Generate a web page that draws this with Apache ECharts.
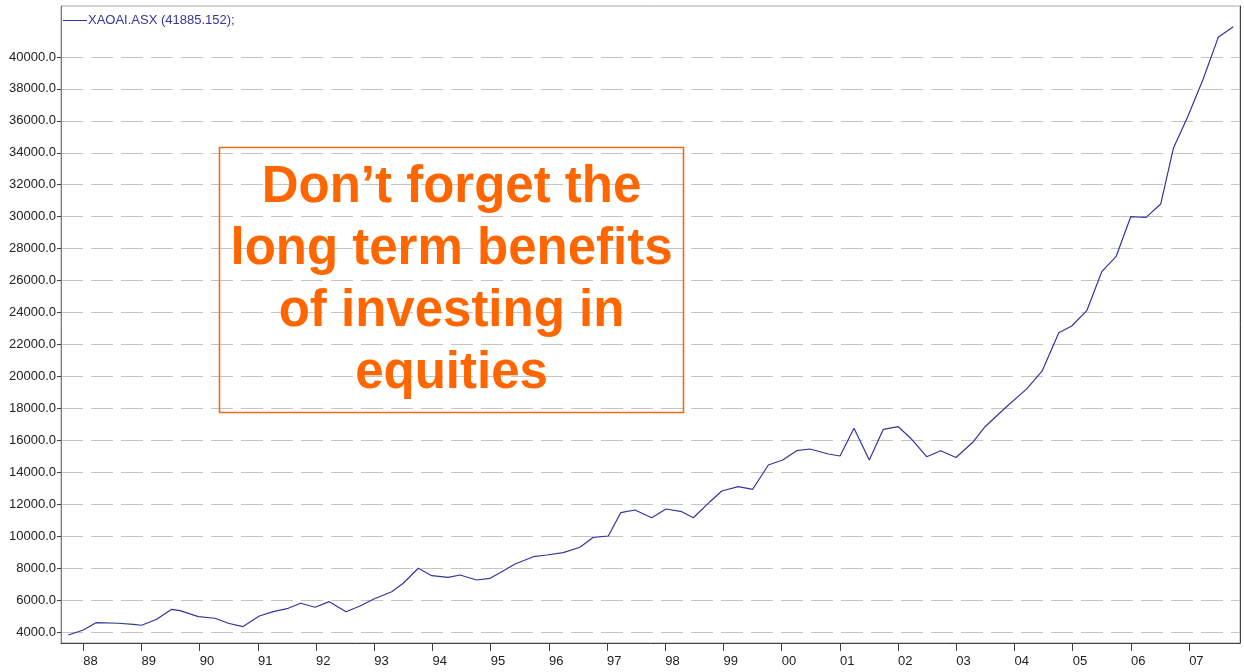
<!DOCTYPE html>
<html>
<head>
<meta charset="utf-8">
<script src="https://cdn.jsdelivr.net/npm/echarts@6/dist/echarts.min.js"></script>
<style>
html,body{margin:0;padding:0;background:#ffffff;}
#chart{width:1244px;height:672px;}
</style>
</head>
<body>
<div id="chart"></div>
<script>
// ---- data ----
const seriesName = 'XAOAI.ASX (41885.152);';

// decimal years
const dates = [
  1987.742, 1988.000, 1988.218, 1988.601, 1988.859, 1989.003, 1989.261, 1989.519,
  1989.662, 1989.976, 1990.263, 1990.491, 1990.739, 1991.024, 1991.265, 1991.522,
  1991.735, 1991.981, 1992.227, 1992.514, 1992.754, 1992.983, 1993.299, 1993.498,
  1993.756, 1993.986, 1994.271, 1994.472, 1994.759, 1994.988, 1995.160, 1995.418,
  1995.732, 1995.962, 1996.247, 1996.534, 1996.763, 1997.021, 1997.234, 1997.479,
  1997.766, 1998.012, 1998.282, 1998.481, 1998.768, 1998.969, 1999.254, 1999.502,
  1999.770, 2000.017, 2000.258, 2000.486, 2000.801, 2001.002, 2001.242, 2001.505,
  2001.746, 2002.003, 2002.234, 2002.491, 2002.732, 2002.995, 2003.292, 2003.494,
  2003.866, 2004.210, 2004.473, 2004.761, 2004.983, 2005.241, 2005.499, 2005.744,
  2005.997, 2006.260, 2006.512, 2006.729, 2006.981, 2007.240, 2007.500, 2007.758
];

const values = [
  3810, 4125, 4580, 4545, 4480, 4420, 4795, 5420,
  5333, 4958, 4858, 4545, 4332, 5000, 5270, 5483,
  5797, 5546, 5897, 5270, 5628, 6047, 6520, 7049,
  7988, 7525, 7424, 7568, 7255, 7360, 7712, 8257,
  8714, 8820, 8964, 9302, 9928, 10010, 11468, 11637,
  11155, 11700, 11531, 11155, 12157, 12827, 13096, 12933,
  14454, 14767, 15349, 15456, 15142, 15017, 16751, 14767,
  16688, 16852, 16063, 14974, 15349, 14920, 15913, 16850,
  18120, 19220, 20330, 22736, 23156, 24114, 26555, 27494,
  29998, 29960, 30792, 34279, 36300, 38600, 41228, 41885
];

const yTicks = [4000, 6000, 8000, 10000, 12000, 14000, 16000, 18000, 20000, 22000,
  24000, 26000, 28000, 30000, 32000, 34000, 36000, 38000, 40000];

const xTicks = [1988, 1989, 1990, 1991, 1992, 1993, 1994, 1995, 1996, 1997,
  1998, 1999, 2000, 2001, 2002, 2003, 2004, 2005, 2006, 2007];
const xTickLabels = ['88', '89', '90', '91', '92', '93', '94', '95', '96', '97',
  '98', '99', '00', '01', '02', '03', '04', '05', '06', '07'];

const noteLines = ['Don\u2019t forget the', 'long term benefits', 'of investing in', 'equities'];

// ---- chart ----
const chart = echarts.init(document.getElementById('chart'), null, { renderer: 'canvas' });
const lineColor = '#35359c';
const labelFont = { fontFamily: 'Liberation Sans, Arial, sans-serif', fontSize: 13, color: '#222222' };

const option = {
  backgroundColor: '#ffffff',
  animation: false,
  grid: {
    left: 61, right: 4, top: 6, bottom: 29,
    show: true, borderColor: '#a8a8a8', borderWidth: 1, backgroundColor: '#ffffff'
  },
  legend: {
    show: true,
    left: 58, top: 9,
    icon: 'rect',
    itemWidth: 24, itemHeight: 1,
    itemGap: 0,
    textStyle: { fontFamily: 'Liberation Sans, Arial, sans-serif', fontSize: 13, color: lineColor, padding: [0, 0, 0, -4] },
    data: [seriesName]
  },
  xAxis: {
    type: 'value',
    min: 1987.617, max: 2007.874,
    axisLine: { show: true, lineStyle: { color: '#404040', width: 1 } },
    axisTick: { show: true, customValues: xTicks, length: 8, lineStyle: { color: '#404040' } },
    axisLabel: {
      show: true, customValues: xTicks, align: 'left', margin: 12,
      formatter: function (v) { const i = xTicks.indexOf(Math.round(v)); return i >= 0 ? xTickLabels[i] : ''; },
      ...labelFont
    },
    splitLine: { show: false }
  },
  yAxis: [{
    type: 'value',
    min: 3310, max: 43190,
    axisLine: { show: true, lineStyle: { color: '#7a7a7a', width: 1 } },
    axisTick: { show: true, customValues: yTicks, length: 4, lineStyle: { color: '#404040' } },
    axisLabel: {
      show: true, customValues: yTicks, margin: 5,
      formatter: function (v) { return v.toFixed(1); },
      ...labelFont
    },
    splitLine: { show: true, lineStyle: { color: '#c4c4c4', width: 1, type: [22, 8] } }
  }, {
    type: 'value',
    position: 'right',
    min: 3310, max: 43190,
    axisLine: { show: true, onZero: false, lineStyle: { color: '#404040', width: 1 } },
    axisTick: { show: false },
    axisLabel: { show: false },
    splitLine: { show: false }
  }],
  series: [{
    name: seriesName,
    type: 'line',
    yAxisIndex: 0,
    showSymbol: false,
    symbol: 'none',
    lineStyle: { color: lineColor, width: 1.2 },
    itemStyle: { color: lineColor },
    data: dates.map(function (d, i) { return [d, values[i]]; })
  }],
  graphic: [{
    type: 'rect',
    shape: { x: 219.5, y: 147.5, width: 464, height: 265 },
    style: { fill: 'rgba(255,255,255,0)', stroke: '#f46a1c', lineWidth: 1.6 },
    z: 100
  }, {
    type: 'text',
    x: 451.5, y: 281,
    style: {
      text: noteLines.join('\n'),
      fill: '#ff6600',
      font: 'bold 51px "Liberation Sans", Arial, sans-serif',
      lineHeight: 62,
      align: 'center',
      verticalAlign: 'middle'
    },
    z: 101
  }]
};
chart.setOption(option);
</script>
</body>
</html>
